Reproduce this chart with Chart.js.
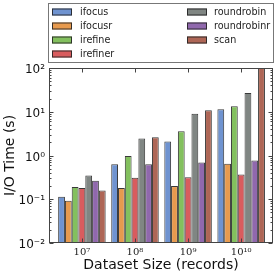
<!DOCTYPE html>
<html>
<head>
<meta charset="utf-8">
<script src="https://cdn.jsdelivr.net/npm/chart.js@4.4.1/dist/chart.umd.min.js"></script>
<style>
html,body{margin:0;padding:0;background:#fff;}
#wrap{width:278px;height:277px;position:relative;}
</style>
</head>
<body>
<div id="wrap"><canvas id="c" width="278" height="277"></canvas></div>
<script>
// ---- data ----
const categories = ['10\u2077', '10\u2078', '10\u2079', '10\u00b9\u2070'];
const yTickLabels = ['10\u207b\u00b2', '10\u207b\u00b9', '10\u2070', '10\u00b9', '10\u00b2'];
const yTickValues = [0.01, 0.1, 1, 10, 100];
const seriesNames = ['ifocus', 'ifocusr', 'irefine', 'irefiner', 'roundrobin', 'roundrobinr', 'scan'];
const ifocus      = [0.114, 0.63, 2.1, 11.4];
const ifocusr     = [0.092, 0.18, 0.20, 0.65];
const irefine     = [0.19, 0.97, 3.6, 13.4];
const irefiner    = [0.18, 0.31, 0.32, 0.37];
const roundrobin  = [0.35, 2.46, 9.0, 27];
const roundrobinr = [0.266, 0.63, 0.69, 0.77];
const scan        = [0.159, 2.62, 10.8, 100];
const seriesValues = [ifocus, ifocusr, irefine, irefiner, roundrobin, roundrobinr, scan];
const colors = ['#6f93d0', '#e79a4e', '#83c05e', '#d95c5e', '#808683', '#9068ad', '#ae6656'];

const datasets = seriesNames.map((name, s) => ({
  label: name,
  data: seriesValues[s].map((v, i) => ({x: i, y: v})),
  backgroundColor: colors[s],
  borderColor: 'rgba(35,35,35,0.9)',
  borderWidth: 1,
  borderSkipped: false,
  categoryPercentage: 0.895,
  barPercentage: 1.0
}));

const frameAndTicks = {
  id: 'frameAndTicks',
  afterDraw(chart) {
    const {ctx, chartArea: a, scales: {x, y}} = chart;
    ctx.save();
    ctx.strokeStyle = '#444';
    ctx.lineWidth = 1;
    const L = Math.round(a.left) + 0.5, R = Math.round(a.right) - 0.5;
    const T = Math.round(a.top) + 0.5, B = Math.round(a.bottom) - 0.5;
    ctx.strokeRect(L, T, R - L, B - T);
    ctx.beginPath();
    for (let e = -2; e <= 2; e++) {
      const py = Math.round(y.getPixelForValue(Math.pow(10, e))) + 0.5;
      ctx.moveTo(L, py); ctx.lineTo(L + 4, py);
      ctx.moveTo(R, py); ctx.lineTo(R - 4, py);
      if (e < 2) {
        for (let k = 2; k <= 9; k++) {
          const pm = Math.round(y.getPixelForValue(k * Math.pow(10, e))) + 0.5;
          ctx.moveTo(L, pm); ctx.lineTo(L + 2, pm);
          ctx.moveTo(R, pm); ctx.lineTo(R - 2, pm);
        }
      }
    }
    for (let i = 0; i < categories.length; i++) {
      const px = Math.round(x.getPixelForValue(i)) + 0.5;
      ctx.moveTo(px, B); ctx.lineTo(px, B - 4);
      ctx.moveTo(px, T); ctx.lineTo(px, T + 4);
    }
    ctx.stroke();
    ctx.restore();
  }
};

const boxLegend = {
  id: 'boxLegend',
  afterDraw(chart) {
    const ctx = chart.ctx;
    ctx.save();
    const L = 48.5, T = 3.5, W = 225, H = 59;
    ctx.fillStyle = '#fff';
    ctx.fillRect(L, T, W, H);
    ctx.strokeStyle = '#777';
    ctx.lineWidth = 1;
    ctx.strokeRect(L, T, W, H);
    ctx.font = '9.6px "DejaVu Sans"';
    ctx.textBaseline = 'middle';
    ctx.textAlign = 'left';
    chart.data.datasets.forEach((ds, i) => {
      const col = Math.floor(i / 4), row = i % 4;
      const sx = col ? 187 : 52;
      const tx = col ? 214 : 80;
      const cy = 12 + row * 14;
      ctx.fillStyle = ds.backgroundColor;
      ctx.fillRect(sx, cy - 3.5, 20, 7);
      ctx.strokeStyle = 'rgba(35,35,35,0.9)';
      ctx.strokeRect(sx + 0.5, cy - 3.5 + 0.5, 19, 6);
      ctx.fillStyle = '#222';
      ctx.fillText(ds.label, tx, cy);
    });
    ctx.restore();
  }
};

new Chart(document.getElementById('c'), {
  type: 'bar',
  data: { datasets },
  plugins: [frameAndTicks, boxLegend],
  options: {
    responsive: false,
    animation: false,
    events: [],
    layout: { padding: { top: 68, left: 0, right: 5, bottom: 0 } },
    plugins: { legend: { display: false }, tooltip: { enabled: false } },
    scales: {
      x: {
        type: 'linear',
        offset: false,
        min: -0.62,
        max: 3.6,
        grid: { display: false, drawTicks: false, offset: false },
        border: { display: false },
        afterBuildTicks(scale) { scale.ticks = categories.map((c, i) => ({value: i})); },
        afterFit(scale) { scale.height = 34; },
        ticks: {
          autoSkip: false,
          maxRotation: 0,
          padding: 3,
          color: '#222',
          font: { family: '"DejaVu Serif"', size: 10 },
          callback: (v) => categories[v]
        },
        title: {
          display: true,
          text: 'Dataset Size (records)',
          color: '#111',
          font: { family: '"DejaVu Sans"', size: 14 },
          padding: { top: 0, bottom: 3 }
        }
      },
      y: {
        type: 'logarithmic',
        min: 0.01,
        max: 100,
        grid: { display: false, drawTicks: false },
        border: { display: false },
        afterBuildTicks(scale) { scale.ticks = yTickValues.map(v => ({value: v})); },
        afterFit(scale) { scale.width = 49; },
        ticks: {
          autoSkip: false,
          padding: 4,
          labelOffset: 2,
          color: '#111',
          font: { family: '"DejaVu Sans"', size: 12 },
          callback: (v) => { const i = yTickValues.indexOf(v); return i >= 0 ? yTickLabels[i] : ''; }
        },
        title: {
          display: true,
          text: 'I/O Time (s)',
          color: '#111',
          font: { family: '"DejaVu Sans"', size: 14 },
          padding: { top: 2, bottom: 0 }
        }
      }
    }
  }
});
</script>
</body>
</html>
